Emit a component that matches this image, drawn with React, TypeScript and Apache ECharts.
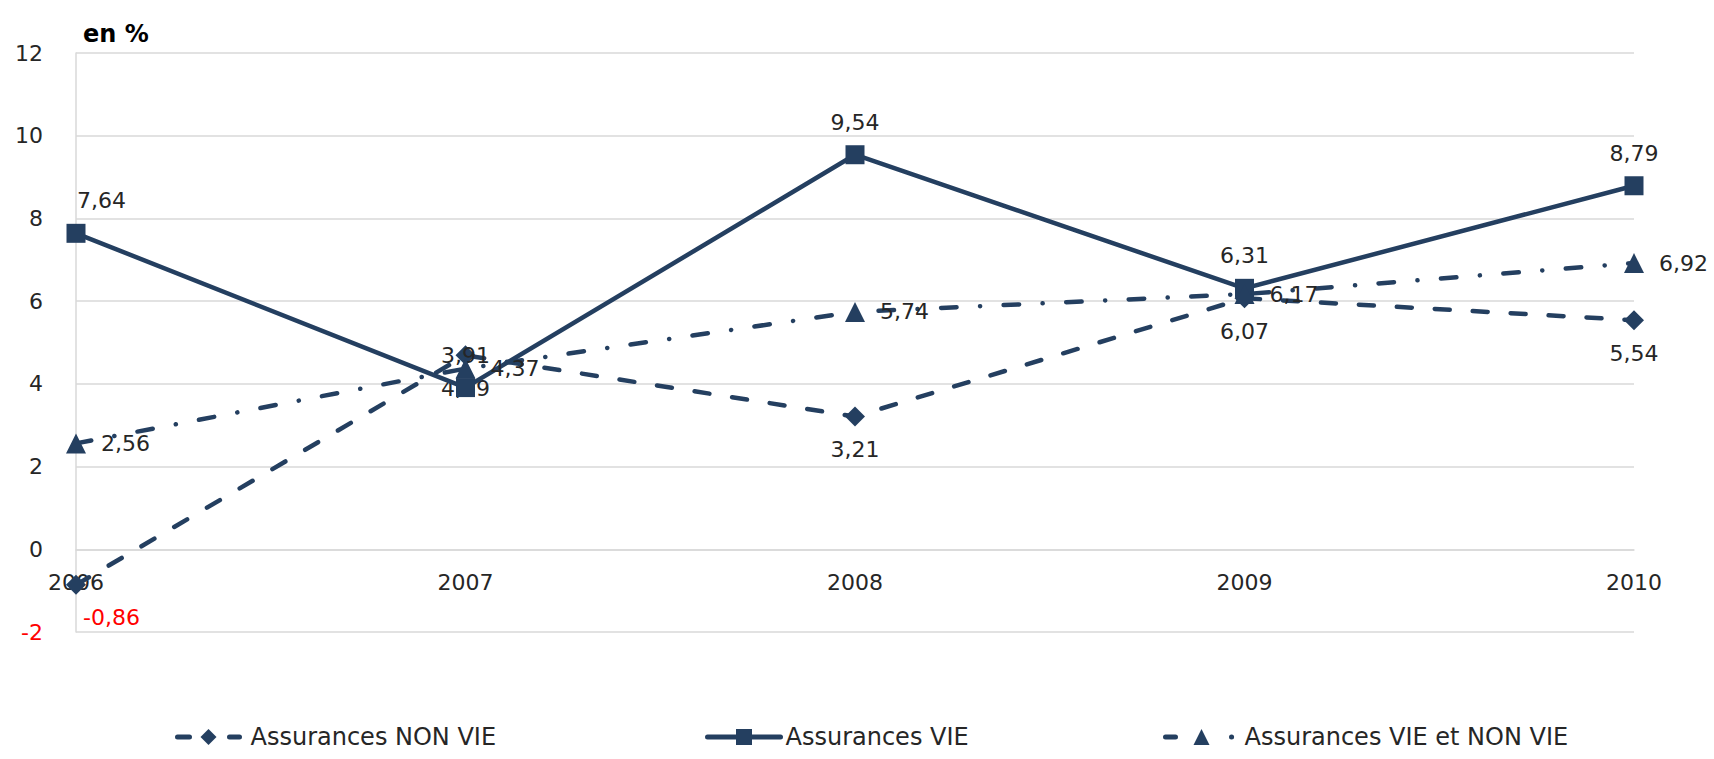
import React, { useEffect, useRef } from "react";
import * as echarts from "echarts";

const categories = ["2006", "2007", "2008", "2009", "2010"];
const seriesNames = ["Assurances NON VIE", "Assurances VIE", "Assurances VIE et NON VIE"];
const nonVie = [-0.86, 4.69, 3.21, 6.07, 5.54];
const vie = [7.64, 3.91, 9.54, 6.31, 8.79];
const vieEtNonVie = [2.56, 4.37, 5.74, 6.17, 6.92];
const yMin = -2;
const yMax = 12;
const yStep = 2;
const unitLabel = "en %";

const NAVY = "#243F60";
const GRID = "#D9D9D9";
const TEXT = "#262626";
const RED = "#FF0000";
const FONT = "DejaVu Sans";

const W = 1714;
const H = 759;
const GRID_TOP = 53;
const GRID_BOTTOM = 127;

const fmt = (v: number) => v.toFixed(2).replace(".", ",");

export default function App() {
  const ref = useRef<HTMLDivElement>(null);
  useEffect(() => {
    document.body.style.margin = "0";
    if (!ref.current) return;
    const chart = echarts.init(ref.current, undefined, { renderer: "svg" });

    const mkData = (arr: number[], firstOffset: number[] | null) =>
      arr.map((v, i) => {
        const label: any = {};
        if (v < 0) label.color = RED;
        if (i === 0 && firstOffset) {
          label.align = "left";
          label.offset = firstOffset;
        }
        return { value: v, label };
      });

    const baseLabel = {
      show: true,
      fontFamily: FONT,
      fontSize: 22,
      color: TEXT,
      formatter: (p: any) => fmt(p.value),
    };

    const plotH = H - GRID_TOP - GRID_BOTTOM;
    const zeroOffset = -(plotH * (0 - yMin)) / (yMax - yMin);

    const legendLeft = [175, 705, 1163];
    const legendItemW = [62, 73, 72];
    const legendTextPad = [6, 0, 2];
    const legendDash: any[] = [[12, 40], "solid", [10, 56, 0.1, 20]];

    chart.setOption({
      animation: false,
      backgroundColor: "#FFFFFF",
      textStyle: { fontFamily: FONT },
      grid: { left: 76, right: 80, top: GRID_TOP, bottom: GRID_BOTTOM, containLabel: false },
      graphic: [
        {
          type: "text",
          left: 83,
          top: 22,
          style: { text: unitLabel, font: `bold 24px "${FONT}"`, fill: "#000000" },
        },
      ],
      legend: [0, 1, 2].map((i) => ({
        data: [seriesNames[i]],
        left: legendLeft[i],
        top: 725,
        padding: 0,
        itemWidth: legendItemW[i],
        itemHeight: 20,
        itemGap: 0,
        lineStyle: { width: 5, type: legendDash[i], cap: "round" },
        textStyle: {
          fontFamily: FONT,
          fontSize: 24,
          color: TEXT,
          padding: [0, 0, 0, legendTextPad[i]],
        },
      })),
      xAxis: {
        type: "category",
        data: categories,
        boundaryGap: false,
        position: "bottom",
        offset: zeroOffset,
        axisLine: { onZero: false, lineStyle: { color: GRID, width: 1.5 } },
        axisTick: { show: false },
        axisLabel: { fontFamily: FONT, fontSize: 22, color: TEXT, margin: 22 },
        splitLine: { show: false },
      },
      yAxis: {
        type: "value",
        min: yMin,
        max: yMax,
        interval: yStep,
        axisLine: { show: true, lineStyle: { color: GRID, width: 1.5 } },
        axisTick: { show: false },
        splitLine: { show: true, lineStyle: { color: GRID, width: 1.5 } },
        axisLabel: {
          fontFamily: FONT,
          fontSize: 22,
          color: TEXT,
          margin: 33,
          formatter: (v: number) => (v < 0 ? `{neg|${v}}` : `${v}`),
          rich: { neg: { color: RED, fontFamily: FONT, fontSize: 22 } },
        },
      },
      series: [
        {
          name: seriesNames[0],
          type: "line",
          data: mkData(nonVie, [7, 0]),
          symbol: "diamond",
          symbolSize: 20,
          color: NAVY,
          itemStyle: { color: NAVY },
          lineStyle: { color: NAVY, width: 4.5, type: [15, 23], cap: "round" },
          label: { ...baseLabel, position: "bottom", distance: 12 },
          z: 2,
        },
        {
          name: seriesNames[1],
          type: "line",
          data: mkData(vie, [1, 0]),
          symbol: "rect",
          symbolSize: 19,
          color: NAVY,
          itemStyle: { color: NAVY },
          lineStyle: { color: NAVY, width: 4.5, type: "solid" },
          label: { ...baseLabel, position: "top", distance: 12 },
          z: 3,
        },
        {
          name: seriesNames[2],
          type: "line",
          data: mkData(vieEtNonVie, null),
          symbol: "triangle",
          symbolSize: 20,
          color: NAVY,
          itemStyle: { color: NAVY },
          lineStyle: { color: NAVY, width: 4.5, type: [15.5, 23.5, 0.1, 23.5], cap: "round" },
          label: { ...baseLabel, position: "right", distance: 15 },
          z: 4,
        },
      ],
    });
    return () => chart.dispose();
  }, []);
  return (
    <div
      ref={ref}
      style={{ position: "fixed", left: 0, top: 0, width: W, height: H }}
    />
  );
}
